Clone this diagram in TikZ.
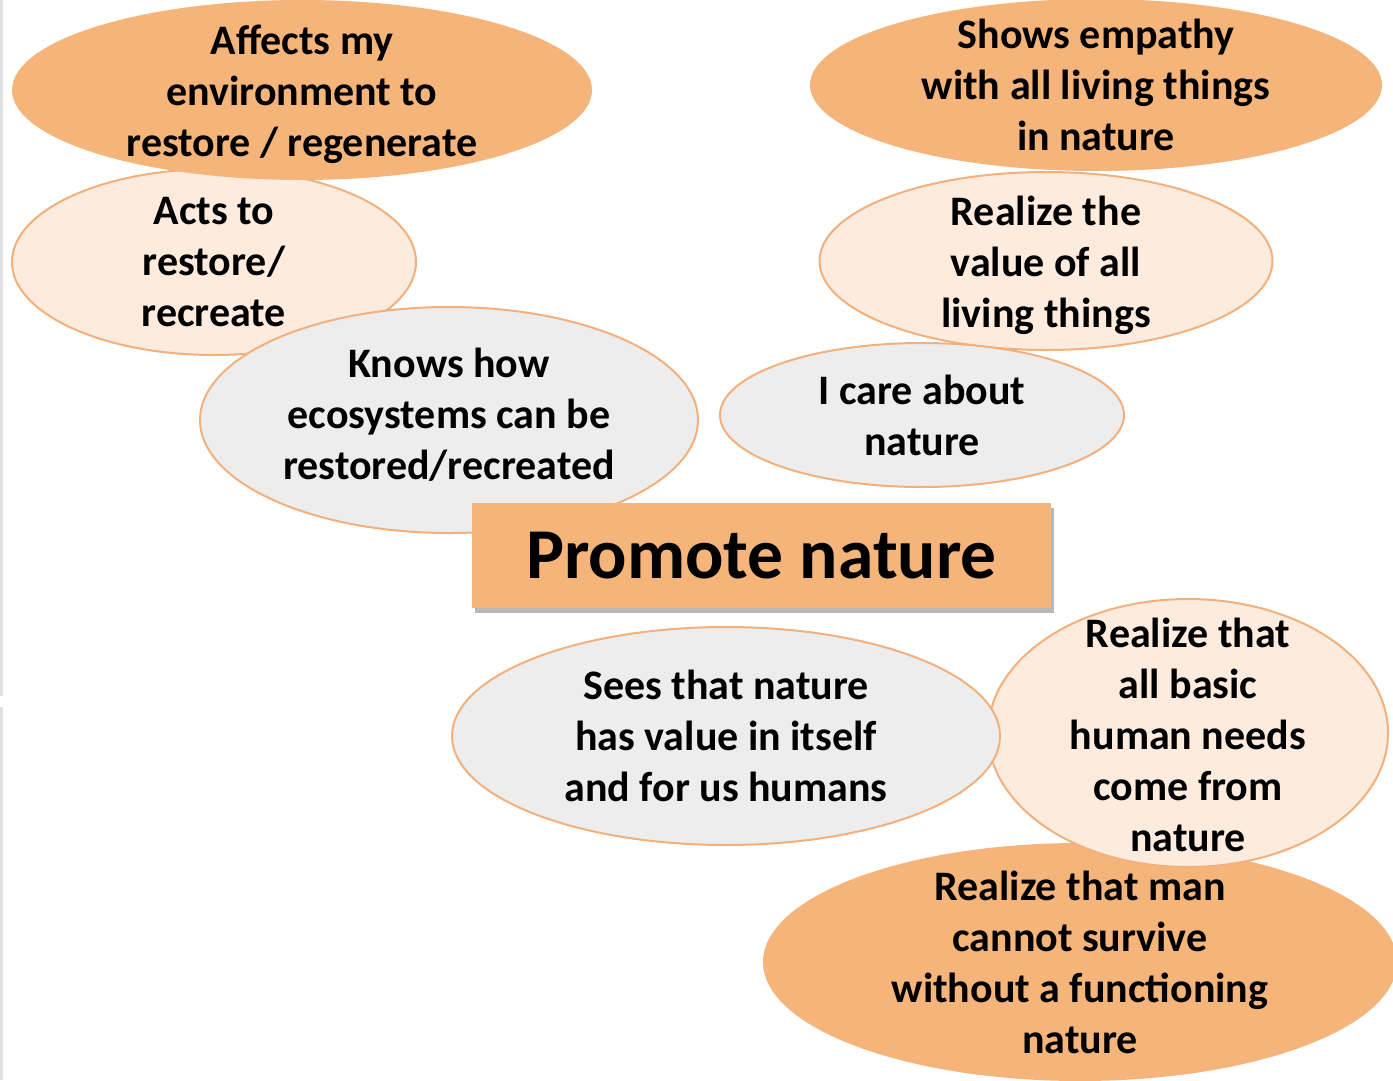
\documentclass[tikz,border=0pt]{standalone}
\usepackage{fontspec}
\setmainfont{Carlito}
\usetikzlibrary{shapes.geometric,shadows}
\definecolor{apricot}{HTML}{F4B47A}
\definecolor{peach}{HTML}{FDEBDE}
\definecolor{mist}{HTML}{EDEDED}
\definecolor{rim}{HTML}{F2B07C}
\tikzset{
    bubble/.style={
           ellipse,
           inner sep=0pt,
           line width=2pt,
           },
    lbl/.style={
           align=center,
           font=\fontsize{42}{51}\selectfont\bfseries,
           },
    strong/.style={bubble,fill=apricot},
    soft/.style={bubble,fill=peach,draw=rim},
    plain/.style={bubble,fill=mist,draw=rim},
}

\begin{document}
\begin{tikzpicture}[x=1pt,y=-1pt]
\useasboundingbox (0,0) rectangle (1393,1080);
\draw[gray!25,line width=3pt] (1.5,0) -- (1.5,696) (1.5,707) -- (1.5,1080);
% left group
\node[soft,minimum width=404,minimum height=186,
      label={[lbl]center:Acts to\\restore/\\recreate}](acts) at (214,262){};
\node[strong,minimum width=580,minimum height=180,
      label={[lbl,yshift=-4pt]center:Affects my\\environment to\\restore / regenerate}](affects) at (302,90){};
\node[plain,minimum width=498,minimum height=226,
      label={[lbl,yshift=5pt]center:Knows how\\ecosystems can be\\restored/recreated}](knows) at (449,420){};
% upper right group
\node[strong,minimum width=572,minimum height=172,
      label={[lbl]center:Shows empathy\\with all living things\\in nature}](empathy) at (1096,85){};
\node[soft,minimum width=453,minimum height=178,
      label={[lbl,yshift=-4pt]center:Realize the\\value of all\\living things}](value) at (1046,261){};
\node[plain,minimum width=404,minimum height=144,
      label={[lbl]center:I care about\\nature}](care) at (922,415){};
% centre
\node[fill=apricot,minimum width=579,minimum height=105,inner sep=0pt,
      drop shadow={shadow xshift=3pt,shadow yshift=-5pt,fill=black!40,opacity=.7},
      font=\fontsize{71.5}{80}\selectfont\bfseries](promote) at (761.5,555.5){\raisebox{-2pt}{Promote nature}};
% lower right group
\node[strong,minimum width=634,minimum height=238,
      label={[lbl]center:Realize that man\\cannot survive\\without a functioning\\nature}](survive) at (1080,962){};
\node[soft,minimum width=400,minimum height=268,
      label={[lbl,yshift=-2pt]center:Realize that\\all basic\\human needs\\come from\\nature}](needs) at (1188,733){};
\node[plain,minimum width=548,minimum height=218,
      label={[lbl]center:Sees that nature\\has value in itself\\and for us humans}](itself) at (726,736){};
\end{tikzpicture}
\end{document}
